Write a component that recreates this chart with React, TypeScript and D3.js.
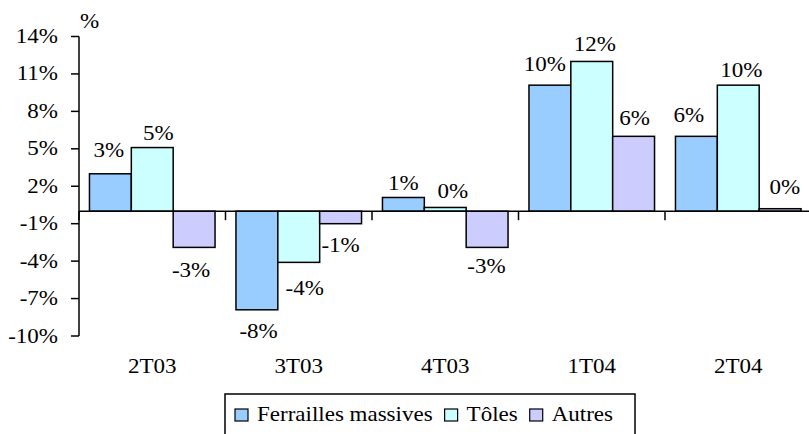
import * as d3 from "d3";
import { useEffect, useRef } from "react";

const categories = ["2T03", "3T03", "4T03", "1T04", "2T04"];
const seriesNames = ["Ferrailles massives", "Tôles", "Autres"];
const ferrailles = [3.0, -7.9, 1.1, 10.1, 6.0];
const toles = [5.1, -4.1, 0.3, 12.0, 10.1];
const autres = [-2.9, -1.0, -2.9, 6.0, 0.2];
const yTicks = [-10, -7, -4, -1, 2, 5, 8, 11, 14];
const colors = ["#99CCFF", "#CCFFFF", "#CCCCFF"];

// hand nudges of the value labels [dx, dy], per series then per category
const labelNudge = [
  [[-1.5, -7], [1.7, 0], [0, 2.3], [-5, -4.3], [-7.6, -4.3]],
  [[6, 2], [6, 5], [7.5, 0.6], [3, 0], [3, 2.3]],
  [[-3, 1.5], [0, 0], [-0.7, -2], [1, -1.7], [4.7, -5]],
];

const W = 809;
const H = 434;
const font = '"Liberation Serif", "Times New Roman", Times, serif';
const sx = 1.15; // the original text is a bit wider than Times

const App = () => {
  const svgRef = useRef<SVGSVGElement>(null);

  useEffect(() => {
    const svg = d3.select(svgRef.current);
    svg.selectAll("*").remove();

    const series = [ferrailles, toles, autres];
    const x = d3.scaleBand<string>().domain(categories).range([79, 811.5]);
    const xs = d3
      .scaleBand<string>()
      .domain(seriesNames)
      .range([0, x.bandwidth()])
      .paddingOuter(0.25);
    const y = d3.scaleLinear().domain([-10, 14]).range([336, 36.5]);
    const y0 = y(0);

    const addText = (g: any, tx: number, ty: number, str: string, anchor: string) =>
      g
        .append("text")
        .attr("transform", `translate(${tx},${ty}) scale(${sx},1)`)
        .attr("text-anchor", anchor)
        .style("font-family", font)
        .style("font-size", "20px")
        .attr("fill", "#000")
        .text(str);

    // bars
    series.forEach((vals, s) => {
      svg
        .append("g")
        .selectAll("rect")
        .data(vals)
        .join("rect")
        .attr("x", (d, i) => x(categories[i])! + xs(seriesNames[s])!)
        .attr("y", (d) => Math.min(y(d), y0))
        .attr("width", xs.bandwidth())
        .attr("height", (d) => Math.abs(y(d) - y0))
        .attr("fill", colors[s])
        .attr("stroke", "#000")
        .attr("stroke-width", 1.5);
    });

    // axes
    const axis = svg.append("g").attr("stroke", "#000").attr("stroke-width", 1.5);
    axis.append("line").attr("x1", 79).attr("x2", 79).attr("y1", y(14)).attr("y2", y(-10));
    yTicks.forEach((t) => {
      axis.append("line").attr("x1", 71).attr("x2", 79).attr("y1", y(t)).attr("y2", y(t));
    });
    axis.append("line").attr("x1", 79).attr("x2", W).attr("y1", y0).attr("y2", y0);
    categories.forEach((c) => {
      axis.append("line").attr("x1", x(c)!).attr("x2", x(c)!).attr("y1", y0).attr("y2", y0 + 9);
    });

    // tick labels
    const labels = svg.append("g");
    yTicks.forEach((t) => addText(labels, 58, y(t) + 6.5, `${t}%`, "end"));
    addText(labels, 80, 28, "%", "start");
    categories.forEach((c) => addText(labels, x(c)! + x.bandwidth() / 2, 373, c, "middle"));

    // value labels
    series.forEach((vals, s) => {
      vals.forEach((v, i) => {
        const cx = x(categories[i])! + xs(seriesNames[s])! + xs.bandwidth() / 2;
        const base = v >= 0 ? y(v) - 10 : y(v) + 28;
        const [dx, dy] = labelNudge[s][i];
        addText(labels, cx + dx, base + dy, `${Math.round(v)}%`, "middle");
      });
    });

    // legend
    const lg = svg.append("g");
    lg.append("rect")
      .attr("x", 225)
      .attr("y", 394)
      .attr("width", 410)
      .attr("height", 52)
      .attr("fill", "#fff")
      .attr("stroke", "#000")
      .attr("stroke-width", 1.5);
    let cursor = 235;
    seriesNames.forEach((name, s) => {
      lg.append("rect")
        .attr("x", cursor)
        .attr("y", 409)
        .attr("width", 13)
        .attr("height", 12)
        .attr("fill", colors[s])
        .attr("stroke", "#000")
        .attr("stroke-width", 1.2);
      const t = addText(lg, cursor + 22, 421, name, "start");
      const w = (t.node() as SVGTextElement).getComputedTextLength() * sx;
      cursor += 22 + w + 12;
    });
  }, []);

  return (
    <svg
      ref={svgRef}
      width={W}
      height={H}
      style={{ position: "absolute", left: 0, top: 0, background: "#fff" }}
    />
  );
};

export default App;
